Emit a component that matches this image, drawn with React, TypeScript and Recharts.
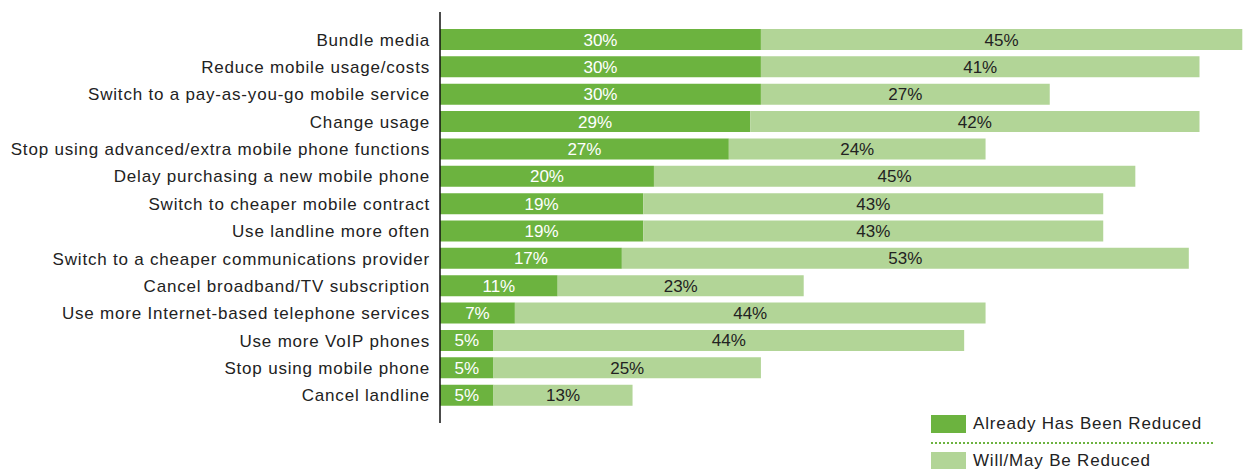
import React from 'react';
import { BarChart, Bar, XAxis, YAxis, LabelList } from 'recharts';

// categories, top to bottom
const categories = [
  'Bundle media',
  'Reduce mobile usage/costs',
  'Switch to a pay-as-you-go mobile service',
  'Change usage',
  'Stop using advanced/extra mobile phone functions',
  'Delay purchasing a new mobile phone',
  'Switch to cheaper mobile contract',
  'Use landline more often',
  'Switch to a cheaper communications provider',
  'Cancel broadband/TV subscription',
  'Use more Internet-based telephone services',
  'Use more VoIP phones',
  'Stop using mobile phone',
  'Cancel landline',
];

const alreadyReduced = [30, 30, 30, 29, 27, 20, 19, 19, 17, 11, 7, 5, 5, 5];
const mayBeReduced = [45, 41, 27, 42, 24, 45, 43, 43, 53, 23, 44, 44, 25, 13];

const seriesNames = ['Already Has Been Reduced', 'Will/May Be Reduced'];

const data = categories.map((name, i) => ({
  name,
  already: alreadyReduced[i],
  may: mayBeReduced[i],
}));

const DARK = '#6cb33f';
const LIGHT = '#b2d597';
const FONT = '"Liberation Sans", Arial, sans-serif';

const pct = (v: any) => `${v}%`;

// legend drawn outside the chart so it doesn't shrink the plot area
const LegendBox = () => {
  const items = [
    { value: seriesNames[0], color: DARK },
    { value: seriesNames[1], color: LIGHT },
  ];
  return (
    <div
      style={{
        position: 'absolute',
        left: 931,
        top: 415,
        width: 282,
        fontFamily: FONT,
        fontSize: 17,
        color: '#222',
      }}
    >
      {items.map((p, i) => (
        <div key={p.value}>
          {i > 0 && (
            <div style={{ borderTop: `2px dotted ${DARK}`, margin: '9px 0 8px 0' }} />
          )}
          <div style={{ display: 'flex', alignItems: 'center', height: 18 }}>
            <span
              style={{
                display: 'inline-block',
                width: 35,
                height: 18,
                background: p.color,
                marginRight: 7,
              }}
            />
            <span style={{ letterSpacing: 0.8 }}>{p.value}</span>
          </div>
        </div>
      ))}
    </div>
  );
};

export default function App() {
  return (
    <div style={{ position: 'absolute', left: 0, top: 0, width: 1256, height: 469, background: '#fff', overflow: 'hidden' }}>
      <BarChart
        width={1256}
        height={469}
        data={data}
        layout="vertical"
        margin={{ top: 12, right: 3, left: 0, bottom: 46 }}
        barSize={21}
      >
        <XAxis type="number" domain={[0, 76]} hide />
        <YAxis
          type="category"
          dataKey="name"
          width={440}
          interval={0}
          tickLine={false}
          tickMargin={4}
          axisLine={{ stroke: '#111', strokeWidth: 1.5 }}
          padding={{ top: 14, bottom: 14 }}
          tick={{ fontSize: 17, fill: '#222', fontFamily: FONT, letterSpacing: 0.8 }}
        />
        <Bar dataKey="already" name={seriesNames[0]} stackId="a" fill={DARK} isAnimationActive={false}>
          <LabelList
            dataKey="already"
            position="center"
            formatter={pct}
            fill="#fff"
            style={{ fontSize: 17, fontFamily: FONT }}
          />
        </Bar>
        <Bar dataKey="may" name={seriesNames[1]} stackId="a" fill={LIGHT} isAnimationActive={false}>
          <LabelList
            dataKey="may"
            position="center"
            formatter={pct}
            fill="#222"
            style={{ fontSize: 17, fontFamily: FONT }}
          />
        </Bar>
      </BarChart>
      <LegendBox />
    </div>
  );
}
